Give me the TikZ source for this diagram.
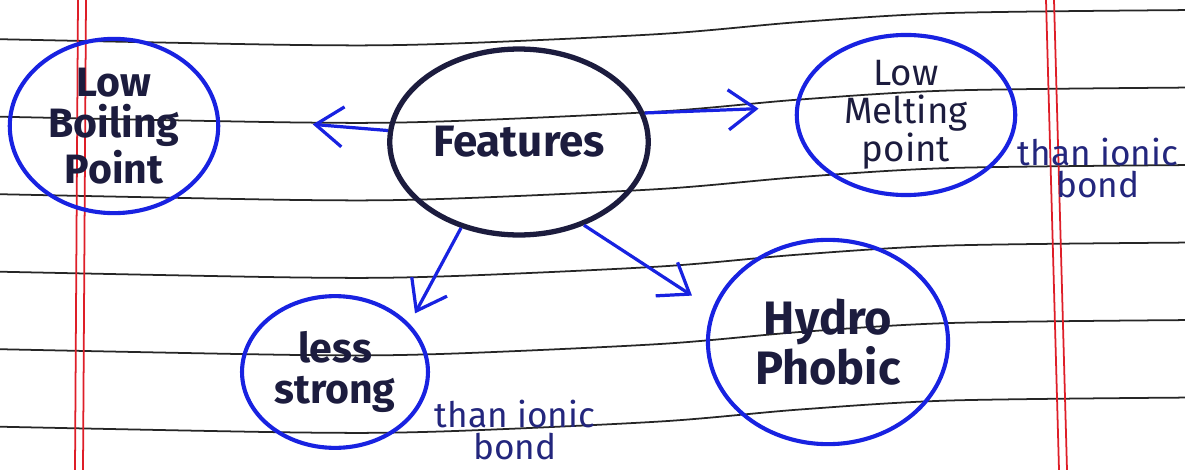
\documentclass[tikz,border=0pt]{standalone}
\usepackage{fontspec}
\setmainfont{Fira Sans}
\usetikzlibrary{shapes.geometric,arrows.meta}
\definecolor{ink}{RGB}{24,34,225}
\definecolor{navy}{RGB}{28,28,62}
\definecolor{pen}{RGB}{35,38,125}
\definecolor{redline}{RGB}{222,30,40}

\begin{document}
\begin{tikzpicture}[x=0.012cm, y=-0.012cm, thick,
    main/.style = {draw=navy, line width=1.8pt, ellipse, inner sep=0pt, align=center, text=navy, font=\fontsize{15}{16}\selectfont\bfseries},
    topic/.style = {draw=ink, line width=1.4pt, ellipse, inner sep=0pt, align=center, text=navy, font=\fontsize{14}{14}\selectfont\bfseries},
    note/.style = {align=center, text=pen, font=\fontsize{12}{11}\selectfont},
    arr/.style = {draw=ink, line width=1.1pt, -{Straight Barb[length=3.3mm, width=4.8mm, line width=1.1pt]}},
    rule/.style = {draw=black!85, line width=0.6pt},
    redrule/.style = {draw=redline, line width=0.6pt}]
    \fill[white] (0,0) rectangle (1185,470);
    \useasboundingbox (0,0) rectangle (1185,470);
    \begin{scope}
      \clip (0,0) rectangle (1185,470);
      \foreach \h in {39,116.5,194,271.5,349,426.5}
        \draw[rule] plot[smooth] coordinates {(-10,\h) (300,\h+6) (440,\h+5) (660,\h-5) (800,\h-17) (950,\h-26) (1195,\h-29)};
      \draw[redrule] (78,0) -- (75,470) (86,0) -- (83,470);
      \draw[redrule] (1046,0) -- (1059,470) (1054,0) -- (1067,470);
    \end{scope}

    \node[main, minimum width=3.1cm, minimum height=2.23cm] (feat) at (519,142) {Features};
    \node[topic, minimum width=2.5cm, minimum height=2.09cm] (boil) at (114,126) {Low\\Boiling\\Point};
    \node[topic, minimum width=2.62cm, minimum height=1.92cm, font=\fontsize{12.5}{13}\selectfont] (melt) at (906,115) {Low\\Melting\\point};
    \node[topic, minimum width=2.23cm, minimum height=1.82cm] (strong) at (335,372) {less\\strong};
    \node[topic, minimum width=2.88cm, minimum height=2.45cm, font=\fontsize{16}{17}\selectfont\bfseries] (hydro) at (828,342) {Hydro\\Phobic};
    \node[note] (note1) at (1098,168) {than ionic\\bond};
    \node[note] (note2) at (515,430) {than ionic\\bond};

    \draw[arr, shorten >=1.12cm] (feat.175) -- (boil.5);
    \draw[arr, shorten >=0.44cm] (feat.13) -- (melt.176);
    \draw[arr, shorten >=0.14cm] (feat.236) -- (strong.33);
    \draw[arr, shorten >=0.29cm] (feat.-52) -- (hydro.164);
\end{tikzpicture}
\end{document}
